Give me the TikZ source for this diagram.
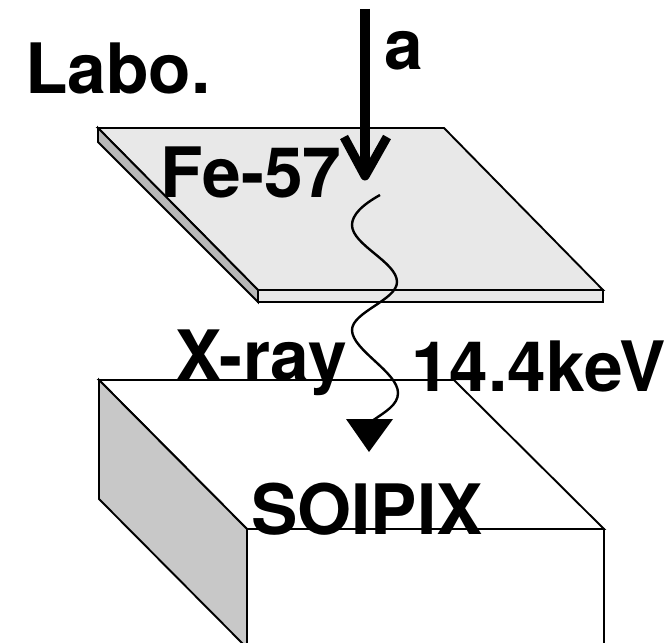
\documentclass[tikz,border=0pt]{standalone}
\usepackage{fontspec}
\setmainfont{TeX Gyre Heros}
\definecolor{platetop}{HTML}{E8E8E8}
\definecolor{plateside}{HTML}{B8B8B8}
\definecolor{boxside}{HTML}{C8C8C8}
\begin{document}
\begin{tikzpicture}[x=1pt,y=-1pt,
 lbl/.style={font=\bfseries\fontsize{69.5}{70}\selectfont,inner sep=0pt,anchor=base west},
 edge/.style={draw=black,line width=1.9pt,line join=miter}]
\useasboundingbox (0,0) rectangle (671,642);
\fill[white] (0,0) rectangle (671,642);
\begin{scope}
\clip (0,0) rectangle (671,642);
% plate
\path[edge,fill=platetop] (98,128) -- (444,128) -- (603,290) -- (258,290) -- cycle;
\path[edge,fill=plateside] (98,128) -- (258,290) -- (258,302) -- (98,142) -- cycle;
\path[edge,fill=platetop] (258,290) -- (603,290) -- (603,302) -- (258,302) -- cycle;
% box
\path[edge,fill=white] (99,380) -- (454,380) -- (604,529) -- (247,529) -- cycle;
\path[edge,fill=boxside] (99,380) -- (247,529) -- (247,648) -- (99,499) -- cycle;
\path[edge,fill=white] (247,529) -- (604,529) -- (604,660) -- (247,660) -- cycle;
\end{scope}
% arrows
\coordinate (a0) at (365,9);
\coordinate (a1) at (365,174);
\draw[line width=10pt] (a0) -- (a1);
\draw[line width=9pt,line cap=butt,line join=round] (344,137) -- (365,176) -- (387,137);
\coordinate (w0) at (380,195);
\coordinate (w1) at (372,421);
\draw[line width=2.4pt] (w0) .. controls (362,205) and (352,215) .. (352,225)
 .. controls (352,245) and (397,262) .. (397,282)
 .. controls (397,300) and (352,312) .. (352,330)
 .. controls (352,350) and (398,372) .. (398,393)
 .. controls (398,405) and (385,412) .. (w1);
\fill (346,419) -- (393,419) -- (369,452) -- cycle;
% labels
\node[lbl] (labo) at (25,93) {Labo.};
\node[lbl] (a) at (384,70) {a};
\node[lbl] (fe) at (160,197) {Fe-57};
\node[lbl] (xray) at (175,380) {X-ray};
\node[lbl] (kev) at (411,391) {14.4keV};
\node[lbl] (soi) at (251,534) {SOIPIX};
\end{tikzpicture}
\end{document}
